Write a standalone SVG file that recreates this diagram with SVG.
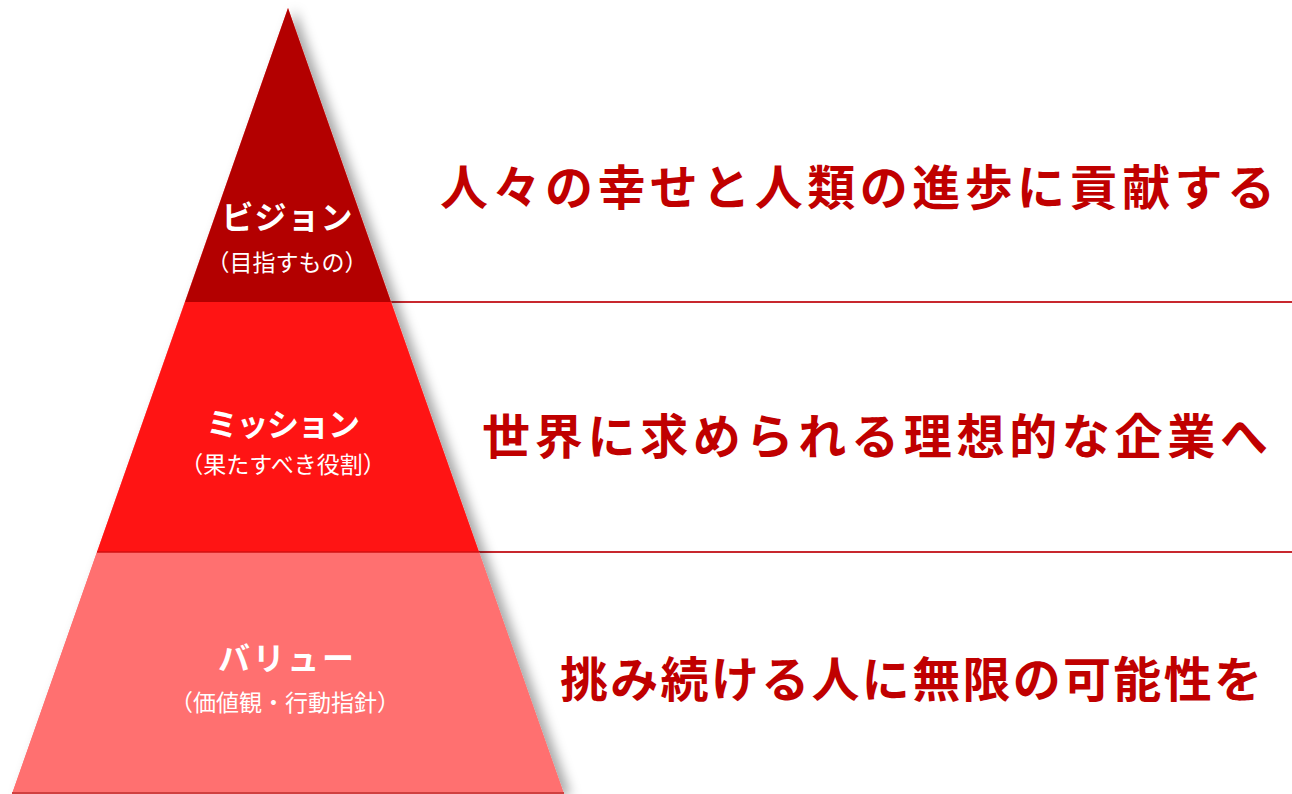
<svg xmlns="http://www.w3.org/2000/svg" width="1292" height="794" viewBox="0 0 1292 794">
  <defs>
    <filter id="shadow" x="-20%" y="-20%" width="140%" height="140%">
      <feDropShadow dx="7" dy="2" stdDeviation="6" flood-color="#000" flood-opacity="0.35"/>
    </filter>
    <style>
      .title { font-family: "Noto Sans CJK JP", "Noto Sans", sans-serif; font-weight: 700; fill: #ffffff; font-size: 32px; text-anchor: middle; }
      .sub { font-family: "Noto Sans CJK JP", "Noto Sans", sans-serif; font-weight: 400; fill: #ffffff; font-size: 23px; text-anchor: middle; }
      .stmt { font-family: "Noto Sans CJK JP", "Noto Sans", sans-serif; font-weight: 700; fill: #c00000; font-size: 48px; }
      .rule { stroke: #c8282e; stroke-width: 2; fill: none; }
    </style>
  </defs>
  <rect width="1292" height="794" fill="#ffffff"/>

  <g id="connectors">
    <line class="rule" x1="380" y1="302" x2="1292" y2="302"/>
    <line class="rule" x1="470" y1="552" x2="1292" y2="552"/>
  </g>

  <g id="pyramid" filter="url(#shadow)">
    <polygon points="288,8 564,794 12,794" fill="#ff7070"/>
  </g>

  <g id="vision">
    <polygon points="288,8 391,302 185,302" fill="#b30000"/>
    <text class="title" x="287" y="229" textLength="131" lengthAdjust="spacing">ビジョン</text>
    <text class="sub" x="287" y="271">（目指すもの）</text>
  </g>

  <g id="mission">
    <polygon points="185,302 391,302 479,552 97,552" fill="#ff1414"/>
    <text class="title" x="283" y="436" textLength="154" lengthAdjust="spacing">ミッション</text>
    <text class="sub" x="283" y="473">（果たすべき役割）</text>
  </g>

  <g id="value">
    <polygon points="97,552 479,552 564,794 12,794" fill="#ff7070"/>
    <line x1="97" y1="552" x2="479" y2="552" stroke="#d01010" stroke-width="1.5"/>
    <line x1="12" y1="793" x2="564" y2="793" stroke="#d04040" stroke-width="2"/>
    <text class="title" x="286" y="670" textLength="136" lengthAdjust="spacing">バリュー</text>
    <text class="sub" x="285" y="711">（価値観・行動指針）</text>
  </g>

  <g id="statement-vision">
    <text class="stmt" x="440" y="205" textLength="835" lengthAdjust="spacing">人々の幸せと人類の進歩に貢献する</text>
  </g>
  <g id="statement-mission">
    <text class="stmt" x="482" y="454" textLength="786" lengthAdjust="spacing">世界に求められる理想的な企業へ</text>
  </g>
  <g id="statement-value">
    <text class="stmt" x="560" y="697" textLength="702" lengthAdjust="spacing">挑み続ける人に無限の可能性を</text>
  </g>
</svg>
